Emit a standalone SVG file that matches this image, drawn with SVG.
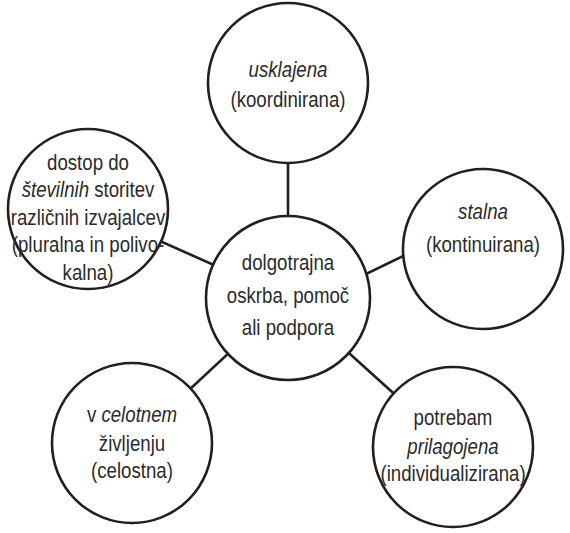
<svg xmlns="http://www.w3.org/2000/svg" width="570" height="533" viewBox="0 0 570 533">
<style>
.c{fill:#fff;stroke:#231f20;stroke-width:2.6}
.l{stroke:#231f20;stroke-width:2.6}
text{font-family:"Liberation Sans",Arial,sans-serif;font-size:22.5px;fill:#2b2b2b;text-anchor:middle}
.i{font-style:italic}
</style>
<rect width="570" height="533" fill="#fff"/>
<g id="connectors">
<line class="l" x1="288" y1="298" x2="288" y2="83"/>
<line class="l" x1="288" y1="298" x2="88" y2="209"/>
<line class="l" x1="330" y1="291.5" x2="430" y2="243"/>
<line class="l" x1="288" y1="298" x2="132" y2="443"/>
<line class="l" x1="288" y1="298" x2="453" y2="447"/>
</g>
<g id="top"><circle class="c" cx="288" cy="83" r="80"/>
<g transform="translate(288 0) scale(0.83 1)">
<text x="0" y="77"><tspan class="i">usklajena</tspan></text>
<text x="0" y="107">(koordinirana)</text></g></g>
<g id="center"><circle class="c" cx="288" cy="298" r="82"/>
<g transform="translate(288 0) scale(0.83 1)">
<text x="0" y="270">dolgotrajna</text>
<text x="0" y="303">oskrba, pomoč</text>
<text x="0" y="335">ali podpora</text></g></g>
<g id="left"><circle class="c" cx="88" cy="209" r="80"/>
<g transform="translate(88 0) scale(0.83 1)">
<text x="0" y="170">dostop do</text>
<text x="0" y="197"><tspan class="i">številnih</tspan> storitev</text>
<text x="0" y="225">različnih izvajalcev</text>
<text x="0" y="252">(pluralna in polivo-</text>
<text x="0" y="280">kalna)</text></g></g>
<g id="right"><circle class="c" cx="483" cy="249" r="80"/>
<g transform="translate(483 0) scale(0.83 1)">
<text x="0" y="219"><tspan class="i">stalna</tspan></text>
<text x="0" y="252">(kontinuirana)</text></g></g>
<g id="bottom-left"><circle class="c" cx="132" cy="443" r="80"/>
<g transform="translate(132 0) scale(0.83 1)">
<text x="0" y="422">v <tspan class="i">celotnem</tspan></text>
<text x="0" y="451">življenju</text>
<text x="0" y="478">(celostna)</text></g></g>
<g id="bottom-right"><circle class="c" cx="453" cy="447" r="80"/>
<g transform="translate(453 0) scale(0.83 1)">
<text x="0" y="425">potrebam</text>
<text x="0" y="454"><tspan class="i">prilagojena</tspan></text>
<text x="0" y="481">(individualizirana)</text></g></g>
</svg>
